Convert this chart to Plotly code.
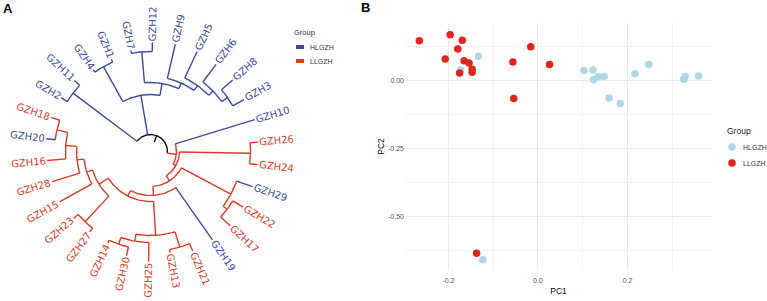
import math
import plotly.graph_objects as go

# ---------------- Panel A: circular dendrogram ----------------
leaf_order = ["GZH18", "GZH20", "GZH16", "GZH28", "GZH15", "GZH23", "GZH27", "GZH14", "GZH30",
              "GZH25", "GZH13", "GZH21", "GZH19", "GZH17", "GZH22", "GZH29", "GZH24", "GZH26",
              "GZH10", "GZH3", "GZH8", "GZH6", "GZH5", "GZH9", "GZH12", "GZH7", "GZH1", "GZH4",
              "GZH11", "GZH2"]
leaf_parent = ["L1", "L1", "L2", "L3", "L4", "L5", "L5", "C5b", "C5b",
               "C5a", "C5c", "C5c", "L8", "N2217", "N2217", "N29c", "N2624", "N2624",
               "X", "W4", "W4", "W3", "W2", "W", "N712", "N712", "N41", "N41",
               "N211", "N211"]
leaf_height = [105, 105, 104, 103, 104, 102, 101, 101, 107,
               110, 103, 108, 108, 109, 108, 108, 108, 108,
               109, 107, 109, 109, 110, 110, 109, 103, 100, 100,
               104, 104]
hl_samples = ["GZH1", "GZH2", "GZH3", "GZH4", "GZH5", "GZH6", "GZH7", "GZH8", "GZH9",
              "GZH10", "GZH11", "GZH12", "GZH19", "GZH20", "GZH29"]

node_name = ["root", "N211", "U", "X", "N41", "V", "N712", "W", "W2", "W3", "W4",
             "R", "N2624", "L9", "N29c", "N2217", "L8", "L7", "C5", "C5a", "C5b", "C5c",
             "L6", "L5", "L4", "L3", "L2", "L1"]
node_parent = [None, "root", "root", "root", "U", "U", "V", "V", "W", "W2", "W3",
               "X", "R", "R", "L9", "N29c", "L9", "L8", "L7", "C5", "C5a", "C5",
               "L7", "L6", "L6", "L4", "L3", "L2"]
node_height = [17, 97, 57, 26, 97, 69, 100, 75, 81, 87, 94,
               29, 100, 35, 91, 96, 44, 50, 84, 91, 98, 100,
               61, 96, 67, 74, 85, 96]

group_names = ["HLGZH", "LLGZH"]
tree_colors = ["#3B4B9F", "#DD3A28"]
pca_colors = ["#ADD8E6", "#E0251C"]

# ---------------- Panel B: PCA ----------------
pc1_hl = [-0.133, -0.173, -0.123, 0.103, 0.123, 0.124, 0.135, 0.148, 0.159, 0.184,
          0.217, 0.248, 0.326, 0.329, 0.359]
pc2_hl = [0.091, 0.040, -0.657, 0.038, 0.040, 0.004, 0.015, 0.016, -0.063, -0.083,
          0.026, 0.060, 0.006, 0.016, 0.018]
pc1_ll = [-0.265, -0.196, -0.169, -0.179, -0.207, -0.165, -0.154, -0.147, -0.147, -0.175,
          -0.056, -0.016, 0.026, -0.054, -0.137]
pc2_ll = [0.148, 0.170, 0.150, 0.117, 0.081, 0.074, 0.066, 0.043, 0.032, 0.029,
          0.070, 0.126, 0.060, -0.065, -0.633]
x_ticks = [-0.2, 0.0, 0.2]
x_ticklabels = ["-0.2", "0.0", "0.2"]
y_ticks = [0.0, -0.25, -0.5]
y_ticklabels = ["0.00", "-0.25", "-0.50"]

W, H = 767, 301
BLUE, RED = tree_colors
BLACK = "#111111"

# ---- tree geometry ----
n_leaf = len(leaf_order)
step = 360.0 / n_leaf
start_angle = 161.0 - 360.0
children = {}
parent_of = {}
height = {}
for nm, p, h in zip(node_name, node_parent, node_height):
    height[nm] = h
    parent_of[nm] = p
    if p is not None:
        children.setdefault(p, []).append(nm)
angle = {}
for i, (nm, p, h) in enumerate(zip(leaf_order, leaf_parent, leaf_height)):
    height[nm] = h
    parent_of[nm] = p
    children.setdefault(p, []).append(nm)
    angle[nm] = start_angle + step * i


def get_angle(n):
    if n in angle:
        return angle[n]
    a = [get_angle(c) for c in children[n]]
    angle[n] = (min(a) + max(a)) / 2.0
    return angle[n]


def leaves_of(n):
    if n not in children:
        return [n]
    out = []
    for c in children[n]:
        out += leaves_of(c)
    return out


get_angle("root")


def color_of(n):
    if n == "root":
        return BLACK
    lv = leaves_of(n)
    return BLUE if all(l in hl_samples for l in lv) else RED


def pol(r, a):
    t = math.radians(a)
    return r * math.cos(t), r * math.sin(t)


segs = {BLUE: ([], []), RED: ([], []), BLACK: ([], [])}


def add_line(col, pts):
    xs, ys = segs[col]
    for x, y in pts:
        xs.append(x)
        ys.append(y)
    xs.append(None)
    ys.append(None)


all_nodes = node_name + leaf_order
for n in all_nodes:
    p = parent_of[n]
    if p is not None:
        add_line(color_of(n), [pol(height[p], angle[n]), pol(height[n], angle[n])])
    if n in children:
        ca = [angle[c] for c in children[n]]
        a0, a1 = min(ca), max(ca)
        k = max(2, int(abs(a1 - a0)) + 1)
        add_line(color_of(n), [pol(height[n], a0 + (a1 - a0) * j / (k - 1)) for j in range(k)])
# root edge stub
add_line(BLACK, [pol(height["root"] - 7, angle["root"]), pol(height["root"], angle["root"])])

fig = go.Figure()
for col in [BLACK, RED, BLUE]:
    xs, ys = segs[col]
    fig.add_trace(go.Scatter(x=xs, y=ys, mode="lines", line=dict(color=col, width=1.4),
                             hoverinfo="skip", showlegend=False, xaxis="x", yaxis="y"))

char_w = {"G": 0.775, "Z": 0.685, "H": 0.752}
lab_size = 10
annotations = []
for nm in leaf_order:
    a = angle[nm]
    w = sum(char_w.get(ch, 0.636) for ch in nm) * lab_size
    rc = height[nm] + 1.5 + w / 2.0
    cx, cy = pol(rc, a)
    an = ((a + 180) % 360) - 180
    if -90 <= an <= 90:
        ta = -an
    else:
        ta = 180 - an
        ta = ((ta + 180) % 360) - 180
    col = BLUE if nm in hl_samples else RED
    annotations.append(dict(x=cx, y=cy, xref="x", yref="y", text=nm, showarrow=False,
                            textangle=ta, xanchor="center", yanchor="middle",
                            font=dict(family="DejaVu Sans", size=lab_size, color=col)))

# ---- PCA traces ----
fig.add_trace(go.Scatter(x=pc1_hl, y=pc2_hl, mode="markers", name=group_names[0],
                         marker=dict(color=pca_colors[0], size=7.5, line=dict(width=0)),
                         showlegend=False, xaxis="x2", yaxis="y2"))
fig.add_trace(go.Scatter(x=pc1_ll, y=pc2_ll, mode="markers", name=group_names[1],
                         marker=dict(color=pca_colors[1], size=7.5, line=dict(width=0)),
                         showlegend=False, xaxis="x2", yaxis="y2"))


def px(x):
    return x / W


def py(y):
    return 1 - y / H


shapes = []
# legend for panel A
annotations.append(dict(x=px(292), y=py(33), xref="paper", yref="paper", text="Group",
                        showarrow=False, xanchor="left", yanchor="middle",
                        font=dict(family="Liberation Sans", size=7.5, color="#333333")))
for i, g in enumerate(group_names):
    yc = 47 + 14 * i
    shapes.append(dict(type="rect", xref="paper", yref="paper", x0=px(296), x1=px(304),
                       y0=py(yc + 2), y1=py(yc - 2), fillcolor=tree_colors[i], line=dict(width=0)))
    annotations.append(dict(x=px(308), y=py(yc), xref="paper", yref="paper", text=g,
                            showarrow=False, xanchor="left", yanchor="middle",
                            font=dict(family="Liberation Sans", size=7, color="#333333")))
# legend for panel B
annotations.append(dict(x=px(725), y=py(131), xref="paper", yref="paper", text="Group",
                        showarrow=False, xanchor="left", yanchor="middle",
                        font=dict(family="Liberation Sans", size=8.5, color="#222222")))
for i, g in enumerate(group_names):
    yc = 147 + 16 * i
    shapes.append(dict(type="circle", xref="paper", yref="paper", xsizemode="pixel", ysizemode="pixel",
                       xanchor=px(732), yanchor=py(yc), x0=-3.8, x1=3.8, y0=-3.8, y1=3.8,
                       fillcolor=pca_colors[i], line=dict(width=0)))
    annotations.append(dict(x=px(741), y=py(yc), xref="paper", yref="paper", text=g,
                            showarrow=False, xanchor="left", yanchor="middle",
                            font=dict(family="Liberation Sans", size=7, color="#333333")))
# panel letters
annotations.append(dict(x=px(8), y=py(9), xref="paper", yref="paper", text="<b>A</b>",
                        showarrow=False, xanchor="center", yanchor="middle",
                        font=dict(family="Liberation Sans", size=13, color="black")))
annotations.append(dict(x=px(365), y=py(8), xref="paper", yref="paper", text="<b>B</b>",
                        showarrow=False, xanchor="center", yanchor="middle",
                        font=dict(family="Liberation Sans", size=13, color="black")))

hidden = dict(showgrid=False, zeroline=False, showticklabels=False, showline=False,
              ticks="", fixedrange=True)
cx0, cy0 = 150.5, 151.5
fig.update_layout(
    width=W, height=H, autosize=False,
    margin=dict(l=0, r=0, t=0, b=0),
    paper_bgcolor="white", plot_bgcolor="white",
    showlegend=False,
    xaxis=dict(domain=[0, 370 / W], range=[-cx0, 370 - cx0], **hidden),
    yaxis=dict(domain=[0, 1], range=[cy0 - H, cy0], **hidden),
    xaxis2=dict(domain=[405 / W, 712 / W], range=[-0.297, 0.389], anchor="y2",
                tickmode="array", tickvals=x_ticks, ticktext=x_ticklabels,
                showgrid=True, gridcolor="#EBEBEB", gridwidth=1,
                minor=dict(tickmode="linear", tick0=0, dtick=0.1, showgrid=True,
                           gridcolor="#EFEFEF", gridwidth=0.7),
                zeroline=False, showline=False, ticks="", fixedrange=True,
                ticklabelstandoff=5,
                tickfont=dict(family="Liberation Sans", size=7, color="#555555"),
                title=dict(text="PC1", font=dict(family="Liberation Sans", size=8.5, color="black"),
                           standoff=5)),
    yaxis2=dict(domain=[1 - 270 / H, 1 - 23 / H], range=[-0.695, 0.213], anchor="x2",
                tickmode="array", tickvals=y_ticks, ticktext=y_ticklabels,
                showgrid=True, gridcolor="#EBEBEB", gridwidth=1,
                minor=dict(tickmode="linear", tick0=0, dtick=0.125, showgrid=True,
                           gridcolor="#EFEFEF", gridwidth=0.7),
                zeroline=False, showline=False, ticks="", fixedrange=True,
                tickfont=dict(family="Liberation Sans", size=7, color="#555555"),
                title=dict(text="PC2", font=dict(family="Liberation Sans", size=8.5, color="black"),
                           standoff=2)),
    annotations=annotations,
    shapes=shapes,
)

fig.write_html("out.html", config={"displayModeBar": False, "staticPlot": True},
               post_script="document.body.style.margin='0';document.body.style.overflow='hidden';")
